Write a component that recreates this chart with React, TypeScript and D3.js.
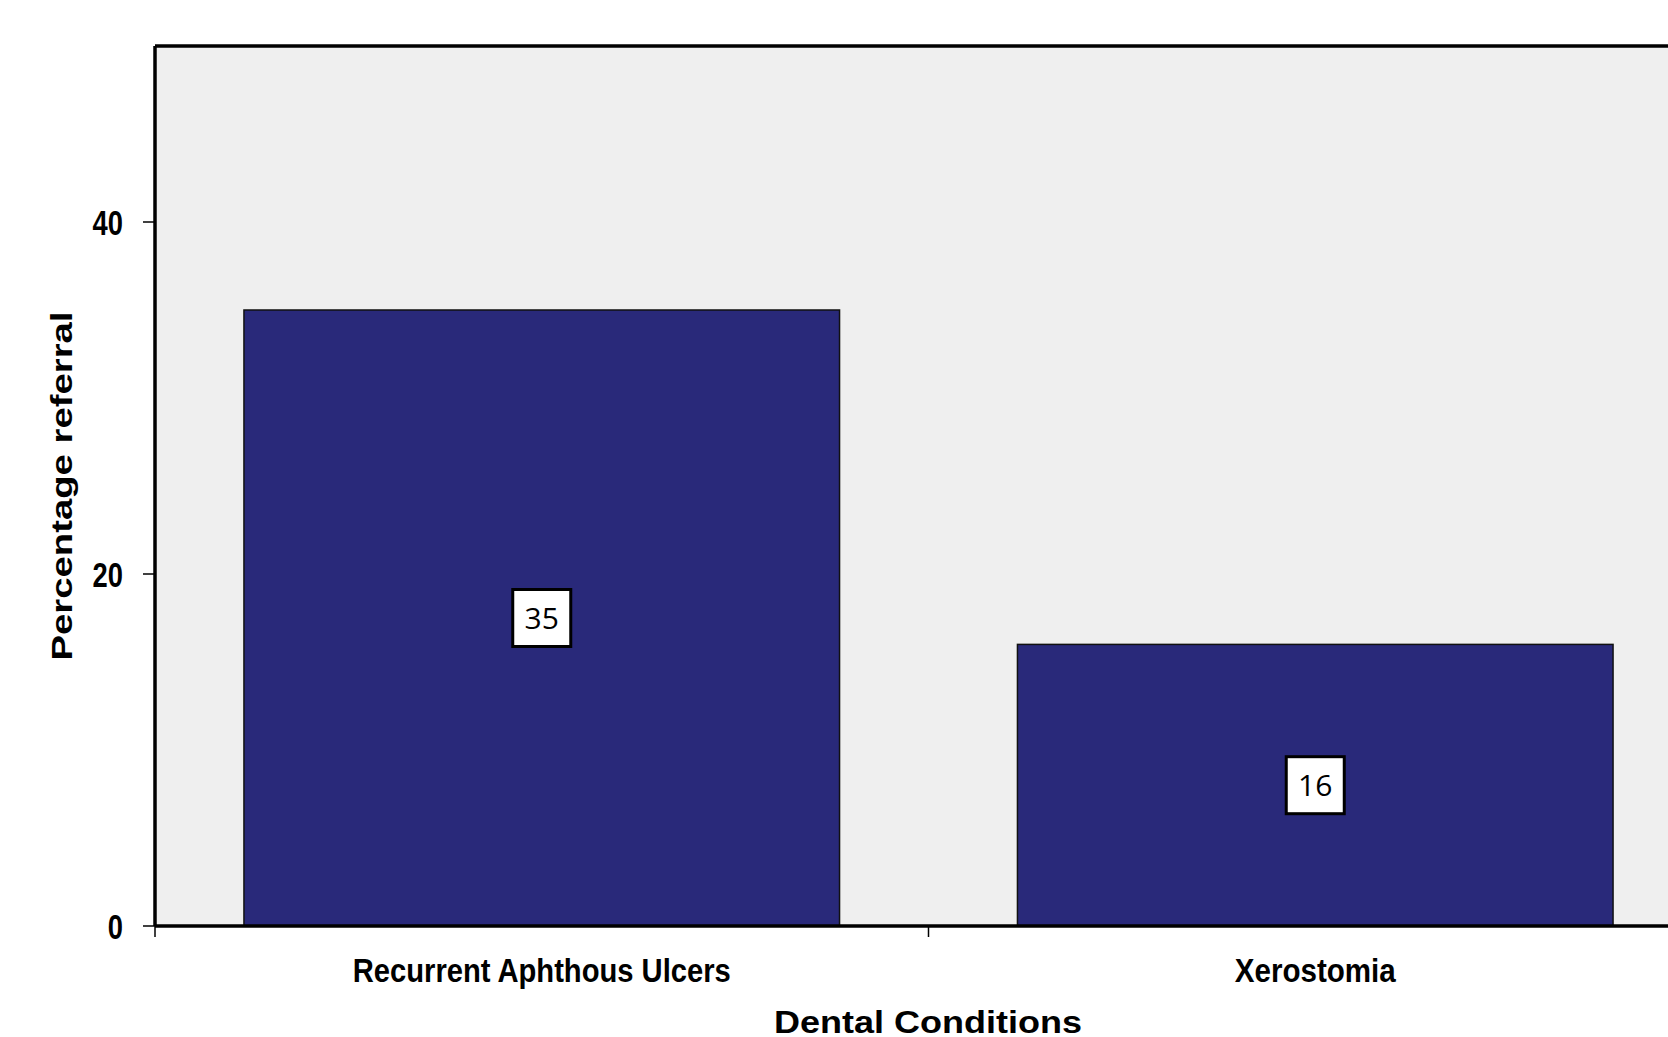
import React from "react";
import * as d3 from "d3";

const categories = ["Recurrent Aphthous Ulcers", "Xerostomia"];
const values = [35, 16];
const yTicks = [0, 20, 40];
const yTitle = "Percentage referral";
const xTitle = "Dental Conditions";

export default function App() {
  const W = 1668, H = 1037;
  const left = 155, top = 46, bottom = 926, right = 1702;
  const x = d3.scaleBand<string>().domain(categories).range([left, right]).paddingInner(0.23).paddingOuter(0.115);
  const xb = d3.scaleBand<string>().domain(categories).range([left, right]);
  const y = d3.scaleLinear().domain([0, 50]).range([bottom, top]);
  const narrow = "'Liberation Sans Narrow', 'Arial Narrow', 'Liberation Sans', Arial, sans-serif";
  return (
    <div style={{ position: "fixed", left: 0, top: 0 }}>
      <svg width={W} height={H} style={{ display: "block", background: "#fff" }}>
        <rect x={left} y={top} width={right - left} height={bottom - top} fill="#efefef" />
        {categories.map((c, i) => (
          <rect key={c} x={x(c)} y={y(values[i])} width={x.bandwidth()} height={bottom - y(values[i])}
            fill="#29297a" stroke="#111" strokeWidth={1.5} />
        ))}
        {/* frame */}
        <line x1={left} x2={right} y1={top} y2={top} stroke="#000" strokeWidth={3.5} />
        <line x1={left} x2={left} y1={top} y2={bottom} stroke="#000" strokeWidth={3.5} />
        <line x1={left} x2={right} y1={bottom} y2={bottom} stroke="#000" strokeWidth={3.5} />
        {/* y ticks */}
        {yTicks.map((t) => (
          <g key={t}>
            <line x1={143} x2={left} y1={y(t)} y2={y(t)} stroke="#000" strokeWidth={1.5} />
            <text transform={`translate(123,${y(t) + 13}) scale(0.76,1)`} textAnchor="end" fontFamily={narrow}
              fontWeight="bold" fontSize={36} fill="#000">{t}</text>
          </g>
        ))}
        {/* x ticks at band boundaries */}
        {categories.map((c) => (
          <line key={c} x1={xb(c)} x2={xb(c)} y1={bottom} y2={bottom + 11} stroke="#000" strokeWidth={1.5} />
        ))}
        {categories.map((c, i) => (
          <text key={c} x={x(c)! + x.bandwidth() / 2} y={982} textAnchor="middle" fontFamily={narrow}
            fontWeight="bold" fontSize={33} fill="#000" textLength={i === 0 ? 378 : 161} lengthAdjust="spacingAndGlyphs">{c}</text>
        ))}
        {/* value labels */}
        {categories.map((c, i) => {
          const cx = x(c)! + x.bandwidth() / 2;
          const cy = (y(values[i]) + bottom) / 2;
          return (
            <g key={c}>
              <rect x={cx - 29} y={cy - 28.5} width={58} height={57} fill="#fff" stroke="#000" strokeWidth={3} />
              <text x={cx} y={cy + 11} textAnchor="middle" fontFamily="'Open Sans', 'Noto Sans', sans-serif" fontSize={30} fill="#000">{values[i]}</text>
            </g>
          );
        })}
        <text transform={`translate(72,486) rotate(-90)`} textAnchor="middle" fontFamily="'Liberation Sans', Arial, sans-serif"
          fontWeight="bold" fontSize={30} fill="#000" textLength={349} lengthAdjust="spacingAndGlyphs">{yTitle}</text>
        <text x={928} y={1033} textAnchor="middle" fontFamily="'Liberation Sans', Arial, sans-serif"
          fontWeight="bold" fontSize={32} fill="#000" textLength={308} lengthAdjust="spacingAndGlyphs">{xTitle}</text>
      </svg>
    </div>
  );
}
